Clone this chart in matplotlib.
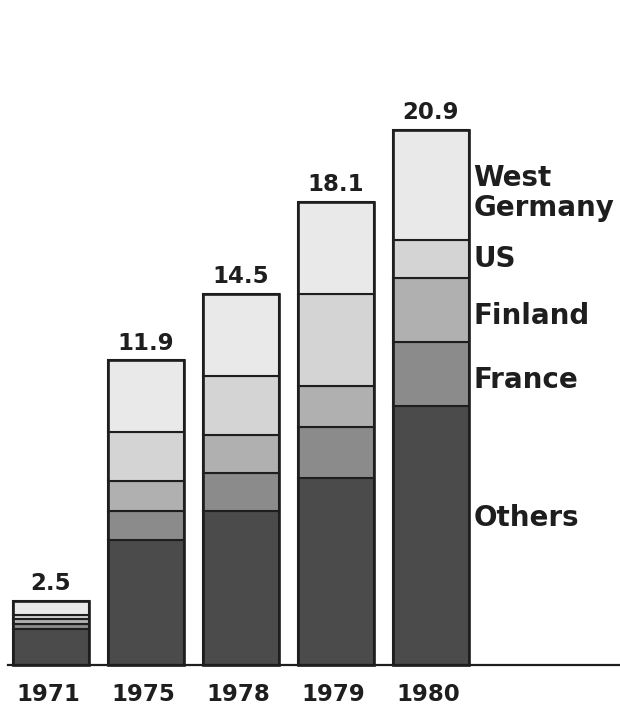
import matplotlib
matplotlib.use("Agg")
import matplotlib.pyplot as plt
import numpy as np

# stacked totals per year, bottom segment first
years = ["1971", "1975", "1978", "1979", "1980"]
totals = [2.5, 11.9, 14.5, 18.1, 20.9]
others = [1.4, 4.9, 6.0, 7.3, 10.1]
france = [0.2, 1.1, 1.5, 2.0, 2.5]
finland = [0.2, 1.2, 1.5, 1.6, 2.5]
us = [0.15, 1.9, 2.3, 3.6, 1.5]
west_germany = [0.55, 2.8, 3.2, 3.6, 4.3]

series = [others, france, finland, us, west_germany]
names = ["Others", "France", "Finland", "US", "West\nGermany"]
shades = ["#4b4b4b", "#8b8b8b", "#b0b0b0", "#d4d4d4", "#e9e9e9"]
# nudges for the side labels (data units)
label_nudge = [0.7, -0.2, -0.2, 0.0, -0.3]

plt.rcParams['font.family'] = ['DejaVu Sans']
ink = "#1e1e1e"

fig = plt.figure(figsize=(6.2, 7.1), dpi=100)
ax = fig.add_axes([0, 0, 1, 1])
px = 25.6  # pixels per unit
ax.set_xlim(-51 / 95, (620 - 51) / 95)
ax.set_ylim(-45 / px, (710 - 45) / px)
ax.axis('off')

x = np.arange(len(years))
w = 0.81
bottom = np.zeros(len(years))
for vals, col in zip(series, shades):
    ax.bar(x, vals, w, bottom=bottom, color=col, edgecolor=ink, linewidth=1.5, zorder=2)
    bottom += np.array(vals)

# heavier outline round each whole bar
ax.bar(x, totals, w, fill=False, edgecolor=ink, linewidth=1.9, zorder=3)

for xi, t in zip(x, totals):
    ax.text(xi, t + 0.22, f"{t:.1f}", ha='center', va='bottom', fontsize=16.5,
            fontweight='bold', color=ink)

for xi, yr in zip(x, years):
    ax.text(xi - 0.03, -1.17, yr, ha='center', va='center', fontsize=16.5,
            fontweight='bold', color=ink)

# category names beside the last bar
cum = np.cumsum([s[-1] for s in series])
starts = np.concatenate([[0], cum[:-1]])
for name, s0, s1, nud in zip(names, starts, cum, label_nudge):
    ax.text(x[-1] + w / 2 + 0.04, (s0 + s1) / 2 + nud, name, ha='left', va='center',
            fontsize=20, fontweight='bold', color=ink, linespacing=1.1)

ax.plot([-0.45, 6.0], [0, 0], color=ink, linewidth=1.6, zorder=4)

fig.savefig("out.png", dpi=100)
